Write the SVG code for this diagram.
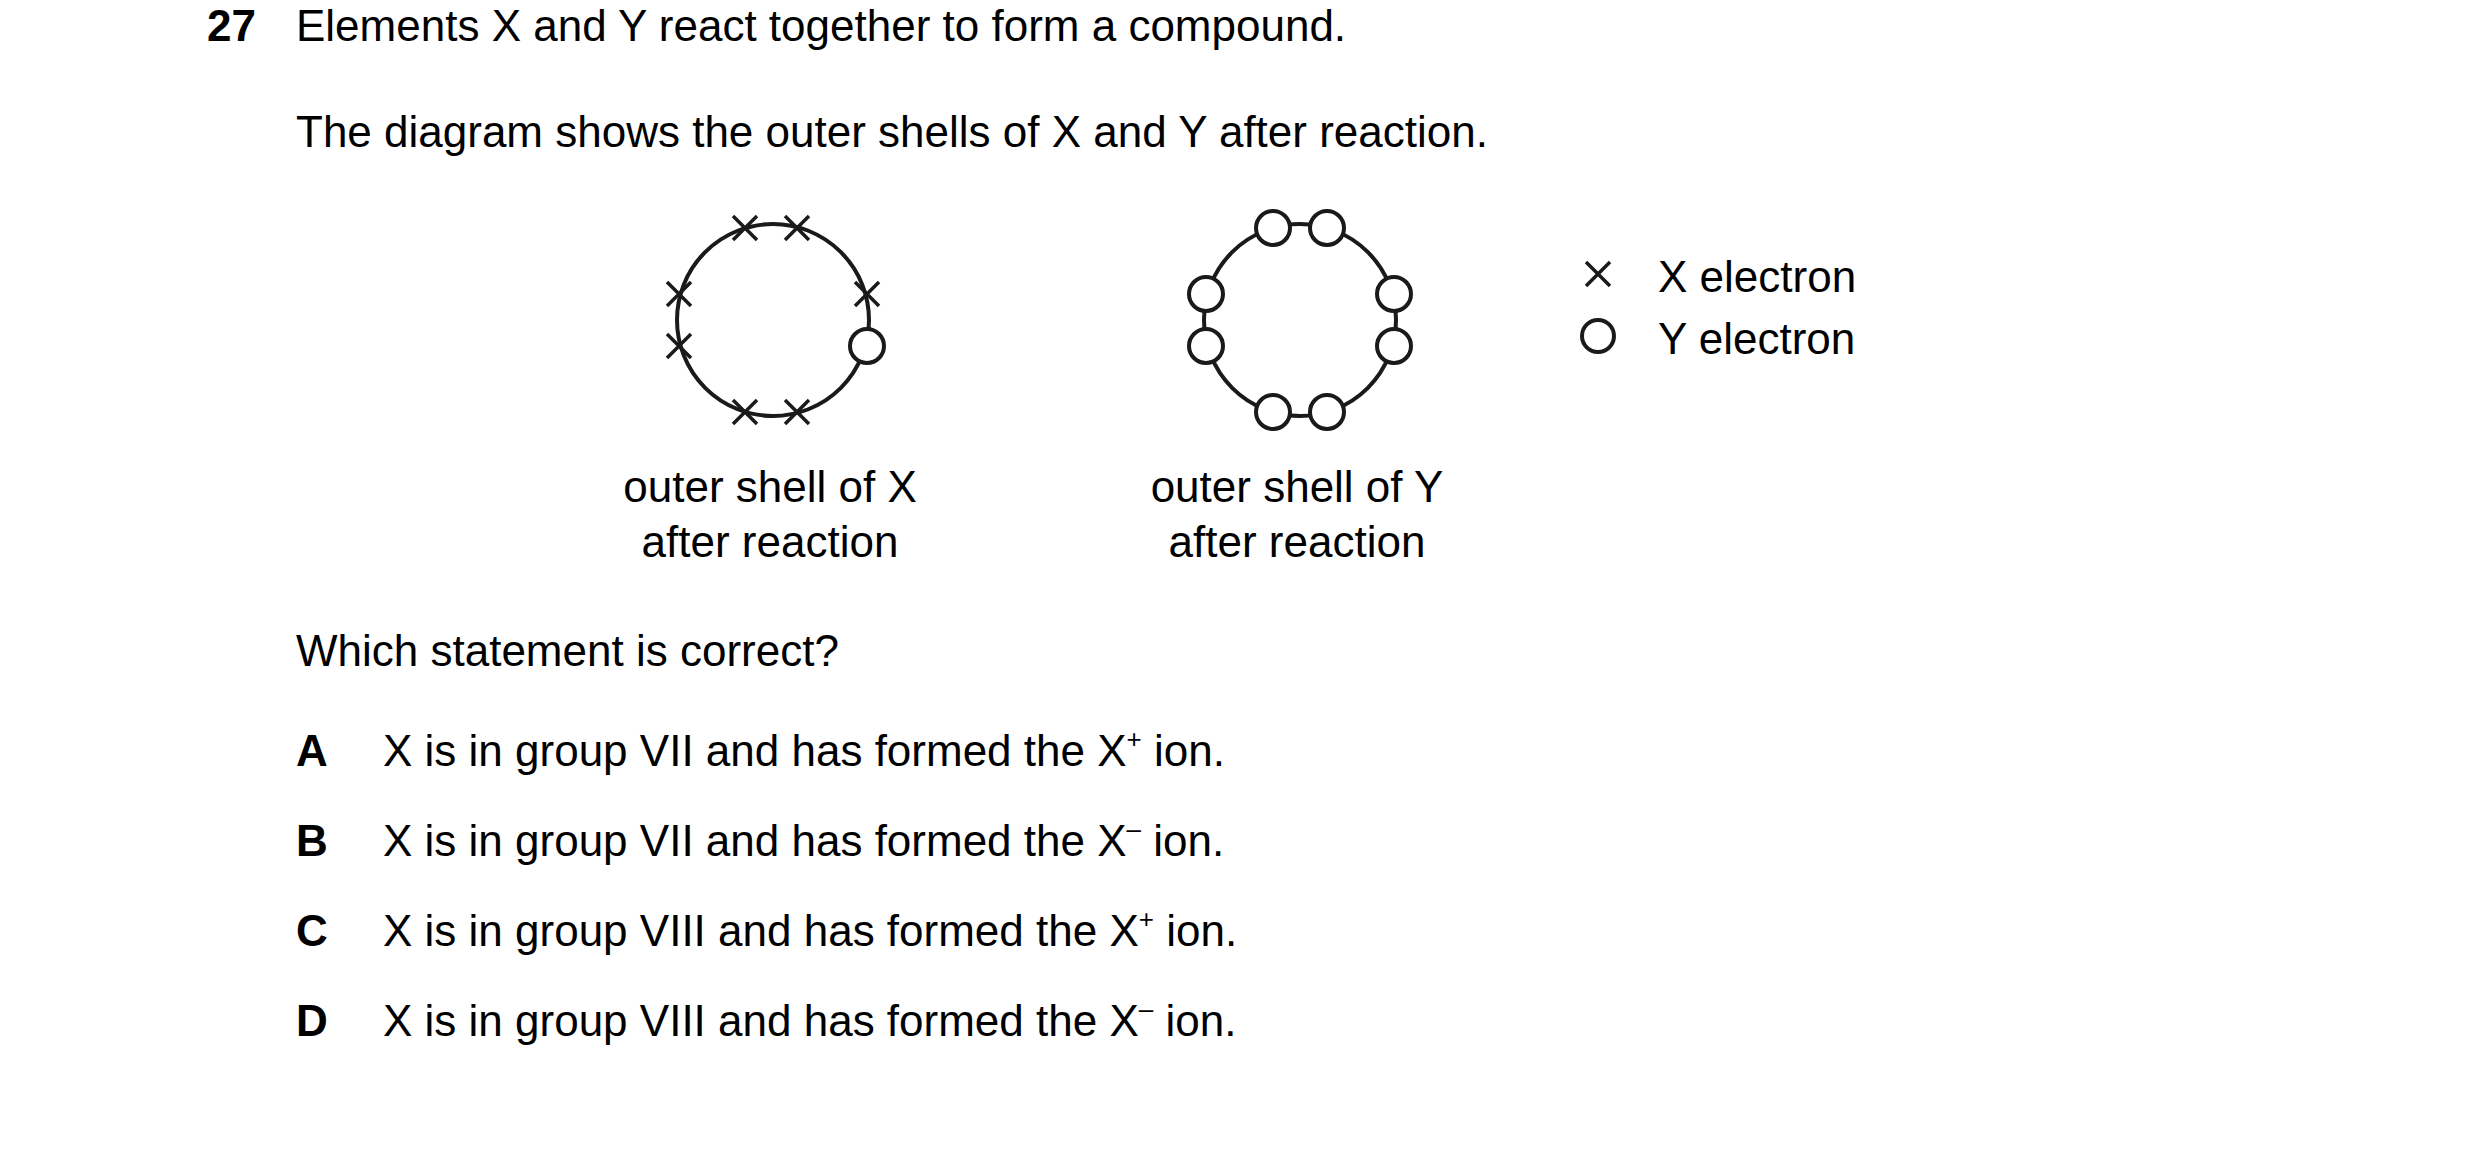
<svg xmlns="http://www.w3.org/2000/svg" width="2480" height="1157" viewBox="0 0 2480 1157">
<style>
text{font-family:"Liberation Sans",Arial,sans-serif;font-size:44px;fill:#000}
.b{font-weight:bold}
.m{text-anchor:middle}
.sh{fill:none;stroke:#1a1a1a;stroke-width:4}
.x{stroke:#1a1a1a;stroke-width:3.5}
.e{fill:#fff;stroke:#1a1a1a;stroke-width:4}
.sup{font-size:26px}
</style>
<rect width="2480" height="1157" fill="#fff"/>
<text class="b" x="207" y="41">27</text>
<text x="296" y="41">Elements X and Y react together to form a compound.</text>
<text x="296" y="147">The diagram shows the outer shells of X and Y after reaction.</text>
<defs>
<g id="cr"><path class="x" d="M-12,-12L12,12M-12,12L12,-12"/></g>
</defs>
<g id="shellX">
<circle class="sh" cx="773" cy="320" r="96"/>
<use href="#cr" x="745" y="228"/><use href="#cr" x="797" y="228"/>
<use href="#cr" x="679" y="294"/><use href="#cr" x="679" y="346"/>
<use href="#cr" x="867" y="294"/>
<circle class="e" cx="867" cy="346" r="17"/>
<use href="#cr" x="745" y="412"/><use href="#cr" x="797" y="412"/>
</g>
<g id="shellY">
<circle class="sh" cx="1300" cy="320" r="96"/>
<circle class="e" cx="1273" cy="228" r="17"/><circle class="e" cx="1327" cy="228" r="17"/>
<circle class="e" cx="1206" cy="294" r="17"/><circle class="e" cx="1206" cy="346" r="17"/>
<circle class="e" cx="1394" cy="294" r="17"/><circle class="e" cx="1394" cy="346" r="17"/>
<circle class="e" cx="1273" cy="412" r="17"/><circle class="e" cx="1327" cy="412" r="17"/>
</g>
<g id="legend">
<use href="#cr" x="1598" y="274"/>
<text x="1658" y="292">X electron</text>
<circle class="e" cx="1598" cy="336" r="16"/>
<text x="1658" y="354">Y electron</text>
</g>
<text class="m" x="770" y="502">outer shell of X</text>
<text class="m" x="770" y="557">after reaction</text>
<text class="m" x="1297" y="502">outer shell of Y</text>
<text class="m" x="1297" y="557">after reaction</text>
<text x="296" y="666">Which statement is correct?</text>
<text class="b" x="296" y="766">A</text>
<text x="383" y="766">X is in group VII and has formed the X<tspan class="sup" dy="-18">+</tspan><tspan dy="18"> ion.</tspan></text>
<text class="b" x="296" y="856">B</text>
<text x="383" y="856">X is in group VII and has formed the X<tspan class="sup" dy="-18">–</tspan><tspan dy="18"> ion.</tspan></text>
<text class="b" x="296" y="946">C</text>
<text x="383" y="946">X is in group VIII and has formed the X<tspan class="sup" dy="-18">+</tspan><tspan dy="18"> ion.</tspan></text>
<text class="b" x="296" y="1036">D</text>
<text x="383" y="1036">X is in group VIII and has formed the X<tspan class="sup" dy="-18">–</tspan><tspan dy="18"> ion.</tspan></text>
</svg>
